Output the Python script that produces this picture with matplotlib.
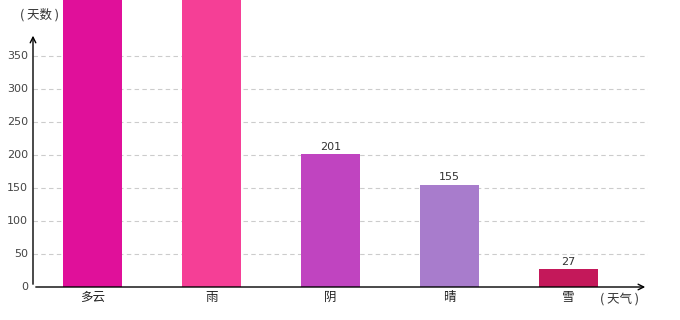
import matplotlib.pyplot as plt

plt.rcParams['font.family'] = ['Noto Sans CJK SC', 'DejaVu Sans']

# weather days
categories = ['多云', '雨', '阴', '晴', '雪']
days = [480, 460, 201, 155, 27]
colors = ['#e0109a', '#f53f96', '#c044c0', '#a87ccc', '#c4185a']
yticks = [0, 50, 100, 150, 200, 250, 300, 350]

fig = plt.figure(figsize=(6.8, 3.2), dpi=100)
ax = fig.add_axes([33/680, 33/320, 615/680, 287/320])

x = [i + 0.5 for i in range(len(categories))]
ax.bar(x, days, width=0.5, color=colors, zorder=2, clip_on=True)

ymax = 287/0.66
ax.set_xlim(0, 615/119)
ax.set_ylim(0, ymax)

# value labels (the ones above the figure top are not visible anyway)
for xi, v in zip(x, days):
    if v + 20 < ymax:
        ax.text(xi, v + 4, str(v), ha='center', va='bottom', fontsize=8,
                color='#333333', family='DejaVu Sans')

for t in yticks[1:]:
    ax.axhline(t, color='#cccccc', lw=0.8, ls=(0, (4, 3)), zorder=1)

for s in ax.spines.values():
    s.set_visible(False)
ax.set_xticks([])
ax.set_yticks([])

# axes with arrows
ax.annotate('', xy=(615/119, 0), xytext=(0, 0),
            arrowprops=dict(arrowstyle='->', color='black', lw=1), zorder=3)
ax.annotate('', xy=(0, 385), xytext=(0, 0),
            arrowprops=dict(arrowstyle='->', color='black', lw=1), zorder=3)

for t in yticks:
    ax.text(-0.04, t, str(t), ha='right', va='center', fontsize=8,
            color='#444444', family='DejaVu Sans')

for xi, c in zip(x, categories):
    ax.text(xi, -6, c, ha='center', va='top', fontsize=9, color='#222222')

fig.text(40/680, 1 - 15/320, '( 天数 )', ha='center', va='center',
         fontsize=9, color='#333333')
fig.text(619/680, 1 - 299/320, '( 天气 )', ha='center', va='center',
         fontsize=9, color='#333333')

fig.savefig('out.png', dpi=100)
